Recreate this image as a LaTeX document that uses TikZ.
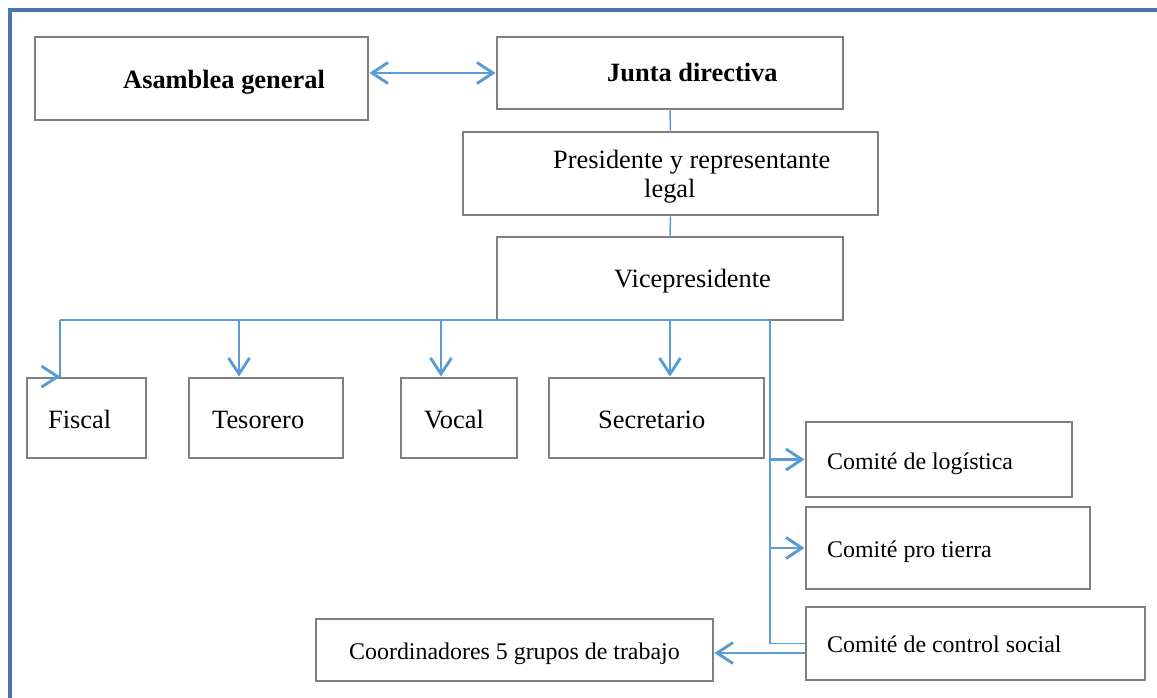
\documentclass[tikz,border=0pt]{standalone}
\usepackage{fontspec}
\setmainfont{Liberation Serif}
\usetikzlibrary{arrows.meta}

\definecolor{framecol}{RGB}{74,118,168}
\definecolor{linkcol}{RGB}{91,155,213}
\definecolor{boxcol}{RGB}{127,127,127}

\tikzset{
  box/.style={draw=boxcol, line width=2.8pt, rectangle, inner sep=0pt, fill=white},
  lbl/.style={anchor=base west, inner sep=0pt, font=\fontsize{26.4}{30}\selectfont},
  lblb/.style={lbl, font=\fontsize{26.4}{30}\selectfont\bfseries},
  lbls/.style={anchor=base west, inner sep=0pt, font=\fontsize{23.9}{28}\selectfont},
  thickline/.style={draw=linkcol, line width=2.9pt},
  thinline/.style={draw=linkcol, line width=1.5pt},
  tip/.style={-{Straight Barb[length=16pt,width=21pt]}},
}

\begin{document}
\begin{tikzpicture}[x=1pt, y=-1pt]
\useasboundingbox (0,0) rectangle (1157,698);

% outer frame (top and left edges)
\draw[framecol, line width=3.2pt] (10,698) -- (10,10) -- (1157,10);

% boxes
\node[box, minimum width=333pt, minimum height=83pt] (asamblea) at (201.5,78.5) {};
\node[box, minimum width=346pt, minimum height=72pt] (junta) at (670,73) {};
\node[box, minimum width=415pt, minimum height=83pt] (presidente) at (670.5,173.5) {};
\node[box, minimum width=346pt, minimum height=83pt] (vice) at (670,278.5) {};
\node[box, minimum width=119pt, minimum height=80pt] (fiscal) at (86.5,418) {};
\node[box, minimum width=154pt, minimum height=80pt] (tesorero) at (266,418) {};
\node[box, minimum width=116pt, minimum height=80pt] (vocal) at (459,418) {};
\node[box, minimum width=215pt, minimum height=80pt] (secretario) at (656.5,418) {};
\node[box, minimum width=266pt, minimum height=75pt] (logistica) at (939,459.5) {};
\node[box, minimum width=284pt, minimum height=82pt] (protierra) at (948,548) {};
\node[box, minimum width=339pt, minimum height=73pt] (control) at (975.5,643.5) {};
\node[box, minimum width=397pt, minimum height=62pt] (coord) at (514.5,650) {};

% labels
\node[lblb] (asamblea-t) at (123,89) {Asamblea general};
\node[lblb] (junta-t) at (607,82) {Junta directiva};
\node[lbl] (presidente-t1) at (553,168) {Presidente y representante};
\node[lbl] (presidente-t2) at (644,197) {legal};
\node[lbl] (vice-t) at (614,287) {Vicepresidente};
\node[lbl] (fiscal-t) at (48,428) {Fiscal};
\node[lbl] (tesorero-t) at (212,428) {Tesorero};
\node[lbl] (vocal-t) at (424,428) {Vocal};
\node[lbl] (secretario-t) at (598,428) {Secretario};
\node[lbls] (logistica-t) at (827,469) {Comité de logística};
\node[lbls] (protierra-t) at (827,557) {Comité pro tierra};
\node[lbls] (control-t) at (827,652) {Comité de control social};
\node[lbls] (coord-t) at (349,659) {Coordinadores 5 grupos de trabajo};

% connectors
\draw[thickline, {Straight Barb[length=16pt,width=21pt]}-{Straight Barb[length=16pt,width=21pt]}]
  (asamblea.east |- junta.west) -- (junta.west);
\draw[thinline] (junta.south) -- (presidente.north);
\draw[thinline] (presidente.south) -- (vice.north);

% distribution bus under the vice-president
\coordinate (bus-l) at (60,320);
\coordinate (bus-r) at (770,320);
\coordinate (drop-t) at (239,320);
\coordinate (drop-v) at (441,320);
\draw[thickline] (bus-l) -- (bus-r);
\draw[thickline, tip] (bus-l) -- (bus-l |- fiscal.north) -- ++(0.2,0);
\draw[thickline, tip] (drop-t) -- (drop-t |- tesorero.north);
\draw[thickline, tip] (drop-v) -- (drop-v |- vocal.north);
\draw[thickline, tip] (vice.south) -- (vice.south |- secretario.north);

% committees
\draw[thickline] (bus-r) -- (bus-r |- protierra.west);
\draw[thickline, tip] (bus-r |- logistica.west) -- (logistica.west);
\draw[thickline, tip] (bus-r |- protierra.west) -- (protierra.west);
\draw[thinline] (bus-r |- protierra.west) -- (bus-r |- control.west) -- (control.west);
\draw[thickline, tip] ([yshift=-9.5pt]control.west) -- ([yshift=-9.5pt]control.west -| coord.east);
\end{tikzpicture}
\end{document}
